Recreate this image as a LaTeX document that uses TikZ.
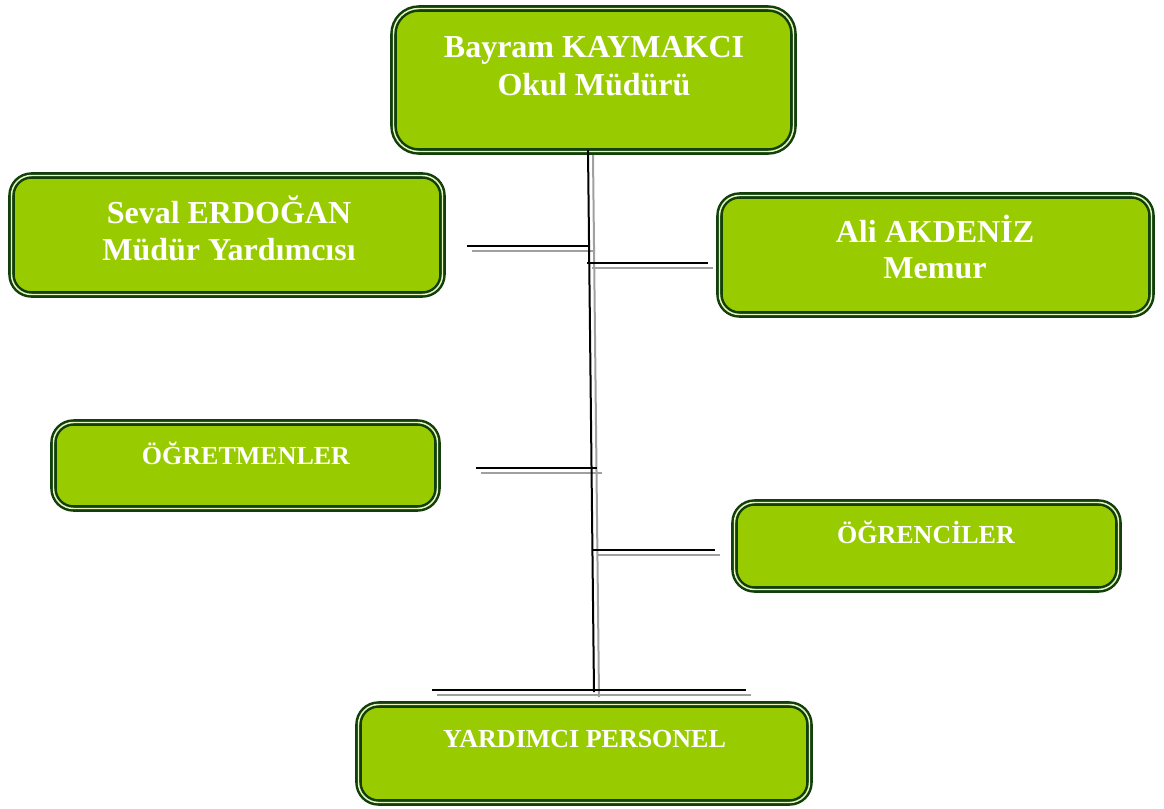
\documentclass[tikz,border=0pt]{standalone}
\usepackage{fontspec}
\setmainfont{Liberation Serif}
\definecolor{boxfill}{RGB}{153,204,0}
\definecolor{boxline}{RGB}{18,64,10}
\definecolor{boxgap}{RGB}{232,245,190}
\definecolor{shadowgray}{RGB}{160,160,160}
\tikzset{
  orgbox/.style 2 args={draw=boxline, line width=1.9pt, double=boxgap, double distance=1.1pt,
    fill=boxfill, rounded corners=15pt, inner sep=0pt,
    minimum width=#1*0.75pt, minimum height=#2*0.75pt},
  bigtxt/.style={text=white, font=\bfseries\fontsize{24}{28}\selectfont, align=center, anchor=base, inner sep=0pt},
  smalltxt/.style={text=white, font=\bfseries\fontsize{19.5}{23}\selectfont, align=center, anchor=base, inner sep=0pt},
  conn/.style={draw=black, line width=1.5pt},
  connshadow/.style={draw=shadowgray, line width=1.5pt},
}
\begin{document}
\begin{tikzpicture}[x=0.75pt, y=-0.75pt]
\useasboundingbox (0,0) rectangle (1164,808);
% boxes
\node[orgbox={400}{143}, rounded corners=19pt] (top) at (593.5,80) {};
\node[orgbox={431}{119}] (seval) at (227,235) {};
\node[orgbox={432}{119}] (ali) at (935.5,255) {};
\node[orgbox={384}{86}] (ogret) at (245.5,465.5) {};
\node[orgbox={384}{87}] (ogrenci) at (926.5,546) {};
\node[orgbox={451}{98}] (yard) at (584,753.5) {};
% texts (anchor = baseline of the last line)
\node[bigtxt, font=\bfseries\fontsize{24}{28.5}\selectfont] (topT) at (594,95) {Bayram KAYMAKCI\\Okul Müdürü};
\node[bigtxt, font=\bfseries\fontsize{24}{27.75}\selectfont] (sevalT) at (229,260) {Seval ERDOĞAN\\ Müdür Yardımcısı};
\node[bigtxt, font=\bfseries\fontsize{24}{27}\selectfont] (aliT) at (935,278) {Ali AKDENİZ\\Memur};
\node[smalltxt] (ogretT) at (246,464) {ÖĞRETMENLER};
\node[smalltxt] (ogrenciT) at (926,543) {ÖĞRENCİLER};
\node[smalltxt] (yardT) at (584.5,747) {YARDIMCI PERSONEL};
% connector coordinates
\coordinate (vT) at (588,150);
\coordinate (vB) at (594,692);
\coordinate (s1) at (467,246);   \coordinate (s2) at (589,246);
\coordinate (a1) at (587,263);   \coordinate (a2) at (708,263);
\coordinate (t1) at (476,468);   \coordinate (t2) at (597,468);
\coordinate (o1) at (593,550);   \coordinate (o2) at (715,550);
\coordinate (y1) at (432,690);   \coordinate (y2) at (746,690);
% shadows
\foreach \p/\q in {vT/vB, s1/s2, a1/a2, t1/t2, o1/o2, y1/y2}{
  \draw[connshadow] ([shift={(5,5)}]\p) -- ([shift={(5,5)}]\q);
}
% lines
\draw[conn] (vT) -- (vB);
\draw[conn] (s1) -- (s2);
\draw[conn] (a1) -- (a2);
\draw[conn] (t1) -- (t2);
\draw[conn] (o1) -- (o2);
\draw[conn] (y1) -- (y2);
\end{tikzpicture}
\end{document}
